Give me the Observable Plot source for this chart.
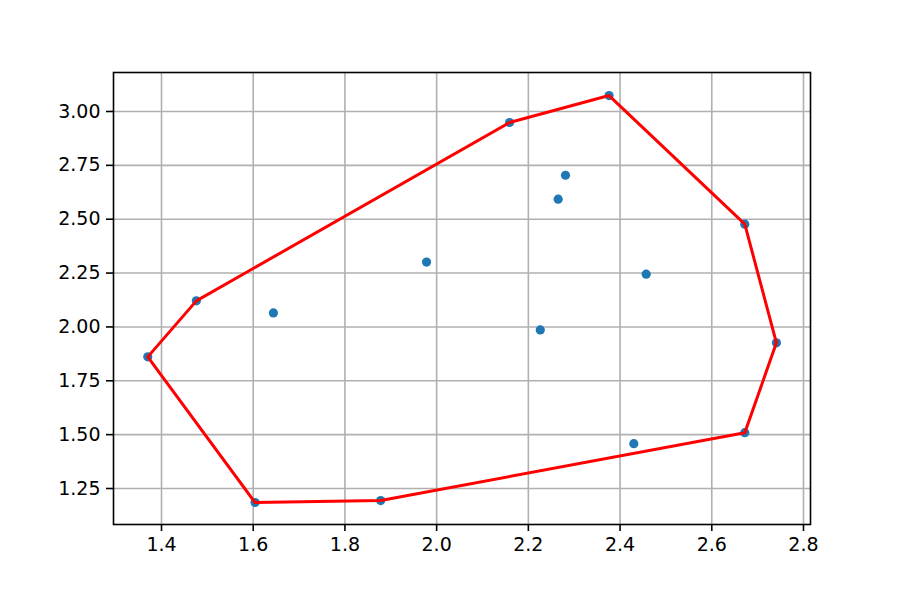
<!DOCTYPE html>
<html>
<head>
<meta charset="utf-8">
<script src="https://cdn.jsdelivr.net/npm/d3@7"></script>
<script src="https://cdn.jsdelivr.net/npm/@observablehq/plot@0.6"></script>
<style>
  html, body { margin: 0; padding: 0; background: #fff; }
  #chart { width: 900px; height: 600px; }
</style>
</head>
<body>
<div id="chart"></div>
<script>
const xs = [1.370, 1.476, 1.644, 1.604, 1.878, 1.978, 2.159, 2.376, 2.281, 2.265, 2.226, 2.457, 2.430, 2.672, 2.741, 2.672];
const ys = [1.861, 2.121, 2.065, 1.185, 1.194, 2.301, 2.949, 3.074, 2.704, 2.593, 1.986, 2.245, 1.458, 2.477, 1.926, 1.509];
const xTicks = [1.4, 1.6, 1.8, 2.0, 2.2, 2.4, 2.6, 2.8];
const yTicks = [1.25, 1.50, 1.75, 2.00, 2.25, 2.50, 2.75, 3.00];

const pts = xs.map((x, i) => ({x, y: ys[i]}));

const chart = Plot.plot({
  width: 900,
  height: 600,
  marginLeft: 113,
  marginRight: 90,
  marginTop: 72,
  marginBottom: 76,
  style: {fontFamily: "DejaVu Sans", fontSize: "19px", color: "#000", background: "#fff"},
  x: {domain: [1.2953, 2.8153], ticks: xTicks, tickFormat: d3.format(".1f"), label: null},
  y: {domain: [1.0829, 3.181], ticks: yTicks, tickFormat: d3.format(".2f"), label: null},
  marks: [
    Plot.gridX(xTicks, {stroke: "#b0b0b0", strokeOpacity: 1, strokeWidth: 1.6}),
    Plot.gridY(yTicks, {stroke: "#b0b0b0", strokeOpacity: 1, strokeWidth: 1.6}),
    Plot.axisX(xTicks, {tickSize: 7, tickPadding: 6, strokeWidth: 1.6, stroke: "#000", fill: "#000", fontSize: 19, tickFormat: d3.format(".1f")}),
    Plot.axisY(yTicks, {tickSize: 7, tickPadding: 6, strokeWidth: 1.6, stroke: "#000", fill: "#000", fontSize: 19, tickFormat: d3.format(".2f")}),
    Plot.dot(pts, {x: "x", y: "y", r: 4.6, fill: "#1f77b4", stroke: null}),
    Plot.hull(pts, {x: "x", y: "y", stroke: "red", strokeWidth: 3, fill: "none", strokeLinejoin: "round"}),
    Plot.frame({stroke: "#000", strokeWidth: 1.6})
  ]
});
document.getElementById("chart").appendChild(chart);
</script>
</body>
</html>
